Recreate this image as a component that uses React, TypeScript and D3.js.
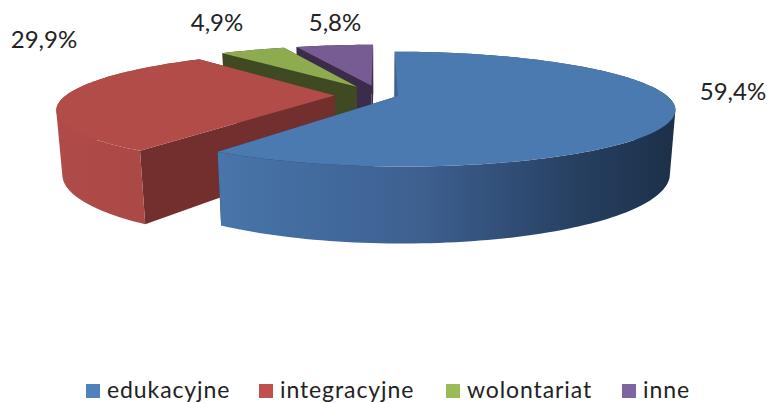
import React from "react";
import * as d3 from "d3";

const categories = ["edukacyjne", "integracyjne", "wolontariat", "inne"];
const shares = [59.4, 29.9, 4.9, 5.8];
const labels = ["59,4%", "29,9%", "4,9%", "5,8%"];
const explode = [0.07, 0.17, 0.18, 0.18];
const topColors = ["#4a7aaf", "#b14c49", "#8fab50", "#775c94"];
const innerColors = ["#20354f", "#722f2d", "#3f4a22", "#3a2c4a"];
const legendColors = ["#4f81bd", "#c0504d", "#9bbb59", "#8064a2"];
const labelPos: [number, number][] = [[733, 100], [44, 48], [217, 31], [335, 31]];
const legendX = [86, 259, 446, 622];

const W = 767, H = 403;
const cx = 380, cy = 95, rx = 268, ry = 54, k = 0.225, dz = 62, m = 0.018;
const font = "Lato, Carlito, 'Open Sans', sans-serif";

type P = [number, number];
function project(u: number, v: number, z: number): P {
  const w = 1 + k * v + m * z;
  return [cx + (rx * u) / w, cy + (-ry * v + dz * z) / w];
}

const pie = d3.pie<number>().sort(null).value((d) => d);
const arcs = pie(shares);
const line = d3.line<P>();

function rim(i: number, z: number): P[] {
  const a = arcs[i];
  const e = explode[i];
  const mid = (a.startAngle + a.endAngle) / 2;
  const ox = e * Math.sin(mid), oy = e * Math.cos(mid);
  const n = Math.max(8, Math.ceil((a.endAngle - a.startAngle) * 40));
  return d3.range(n + 1).map((j) => {
    const t = a.startAngle + ((a.endAngle - a.startAngle) * j) / n;
    return project(ox + Math.sin(t), oy + Math.cos(t), z);
  });
}
function apex(i: number, z: number): P {
  const a = arcs[i];
  const mid = (a.startAngle + a.endAngle) / 2;
  return project(explode[i] * Math.sin(mid), explode[i] * Math.cos(mid), z);
}
// the outer wall as one path of equally wound quads, so no seams show between them
function wallPath(top: P[], bottom: P[]): string {
  return top
    .slice(0, -1)
    .map((p, j) => {
      const quad: P[] = [p, top[j + 1], bottom[j + 1], bottom[j]];
      if (d3.polygonArea(quad) < 0) quad.reverse();
      return line(quad)! + "Z";
    })
    .join("");
}

export default function App() {
  const order = [3, 2, 1, 0];
  return (
    <svg width={W} height={H} style={{ position: "absolute", left: 0, top: 0, background: "#fff" }}>
      <defs>
        <linearGradient id="side0" gradientUnits="userSpaceOnUse" x1={217} x2={672} y1={0} y2={0}>
          <stop offset="0" stopColor="#4875aa" />
          <stop offset="0.45" stopColor="#3d6090" />
          <stop offset="0.8" stopColor="#263f60" />
          <stop offset="1" stopColor="#1c3049" />
        </linearGradient>
        <linearGradient id="side1" gradientUnits="userSpaceOnUse" x1={57} x2={145} y1={0} y2={0}>
          <stop offset="0" stopColor="#af4b48" />
          <stop offset="1" stopColor="#ab4946" />
        </linearGradient>
      </defs>
      {order.map((i) => {
        const top = rim(i, 0);
        const bottom = rim(i, 1);
        const a0 = apex(i, 0), a1 = apex(i, 1);
        const startFace: P[] = [a0, top[0], bottom[0], a1];
        const endFace: P[] = [a0, top[top.length - 1], bottom[bottom.length - 1], a1];
        const sideFill = i === 0 ? "url(#side0)" : i === 1 ? "url(#side1)" : innerColors[i];
        return (
          <g key={categories[i]}>
            <path d={line(startFace)! + "Z"} fill={innerColors[i]} />
            <path d={line(endFace)! + "Z"} fill={innerColors[i]} />
            <path d={wallPath(top, bottom)} fill={sideFill} />
            <path d={line([a0, ...top])! + "Z"} fill={topColors[i]} />
          </g>
        );
      })}
      {labels.map((t, i) => (
        <text key={t} x={labelPos[i][0]} y={labelPos[i][1]} textAnchor="middle" fontFamily={font} fontSize={24} fill="#222">
          {t}
        </text>
      ))}
      {categories.map((c, i) => (
        <g key={c}>
          <rect x={legendX[i]} y={384} width={14} height={14} fill={legendColors[i]} />
          <text x={legendX[i] + 21} y={398} fontFamily={font} fontSize={23} fill="#222" letterSpacing={0.9}>
            {c}
          </text>
        </g>
      ))}
    </svg>
  );
}
